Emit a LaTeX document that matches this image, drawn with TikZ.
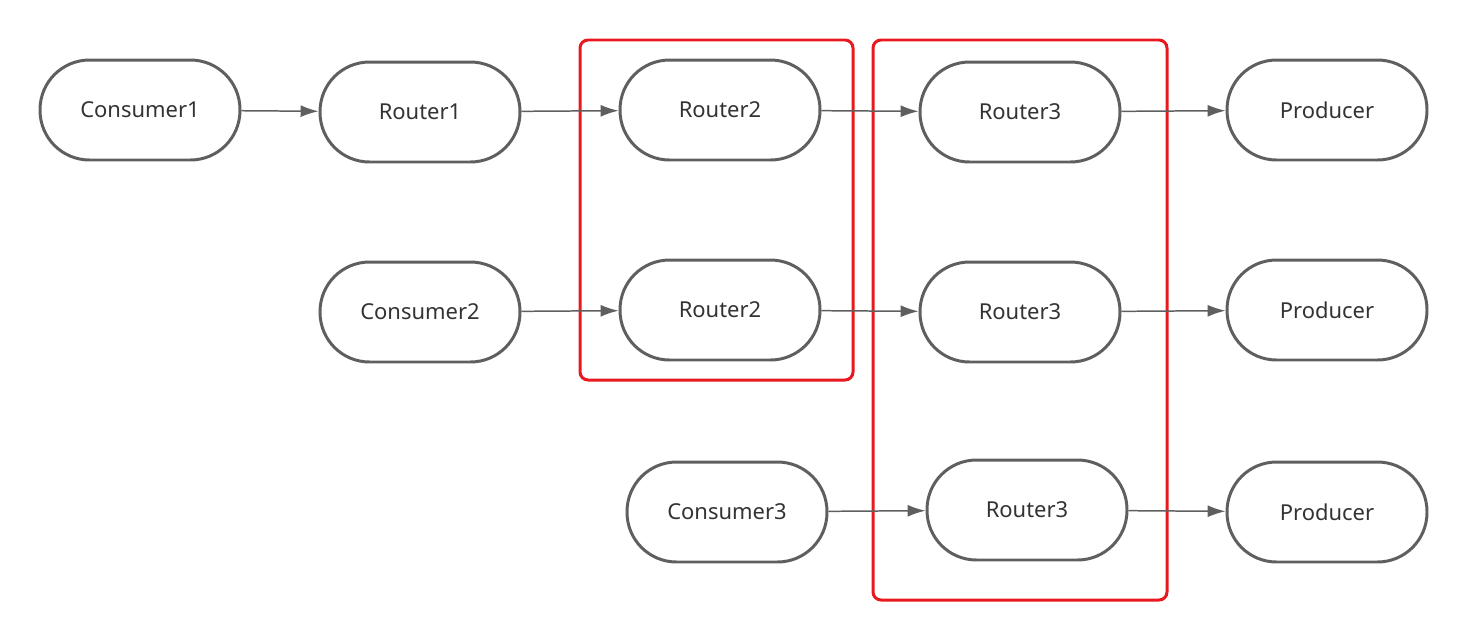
\documentclass[tikz,border=0pt]{standalone}
\usepackage{fontspec}
\setmainfont{Noto Sans}
\usetikzlibrary{arrows.meta}
\definecolor{pillgray}{HTML}{5F5F5F}
\definecolor{txtgray}{HTML}{333333}
\definecolor{boxred}{HTML}{E8191E}
\begin{document}
\begin{tikzpicture}[x=0.02cm,y=-0.02cm,
		pill/.style={draw=pillgray,line width=1.7pt,rounded corners=0.99cm,minimum width=4cm,minimum height=2cm,text=txtgray,font=\fontsize{12.5}{15}\selectfont},
		link/.style={draw=pillgray,line width=0.85pt,-{Latex[length=0.36cm,width=0.24cm]}},
		redbox/.style={draw=boxred,line width=1.7pt,rounded corners=0.16cm}]
		\useasboundingbox (0,0) rectangle (1467,640);
		% red groups
		\draw [redbox](580,40) rectangle (853,380);
		\draw [redbox](873,40) rectangle (1167,600);
		% first row
		\node [pill] (c1) at (140,110) {Consumer1};
		\node [pill] (r1) at (420,112) {Router1};
		\node [pill] (r2a) at (720,110) {Router2};
		\node [pill] (r3a) at (1020,112) {Router3};
		\node [pill] (p1) at (1327,110) {Producer};
		% second row
		\node [pill] (c2) at (420,312) {Consumer2};
		\node [pill] (r2b) at (720,310) {Router2};
		\node [pill] (r3b) at (1020,312) {Router3};
		\node [pill] (p2) at (1327,310) {Producer};
		% third row
		\node [pill] (c3) at (727,512) {Consumer3};
		\node [pill] (r3c) at (1027,510) {Router3};
		\node [pill] (p3) at (1327,512) {Producer};
		\draw [link](c1)--(r1);
		\draw [link](r1)--(r2a);
		\draw [link](r2a)--(r3a);
		\draw [link](r3a)--(p1);
		\draw [link](c2)--(r2b);
		\draw [link](r2b)--(r3b);
		\draw [link](r3b)--(p2);
		\draw [link](c3)--(r3c);
		\draw [link](r3c)--(p3);
	\end{tikzpicture}
\end{document}
